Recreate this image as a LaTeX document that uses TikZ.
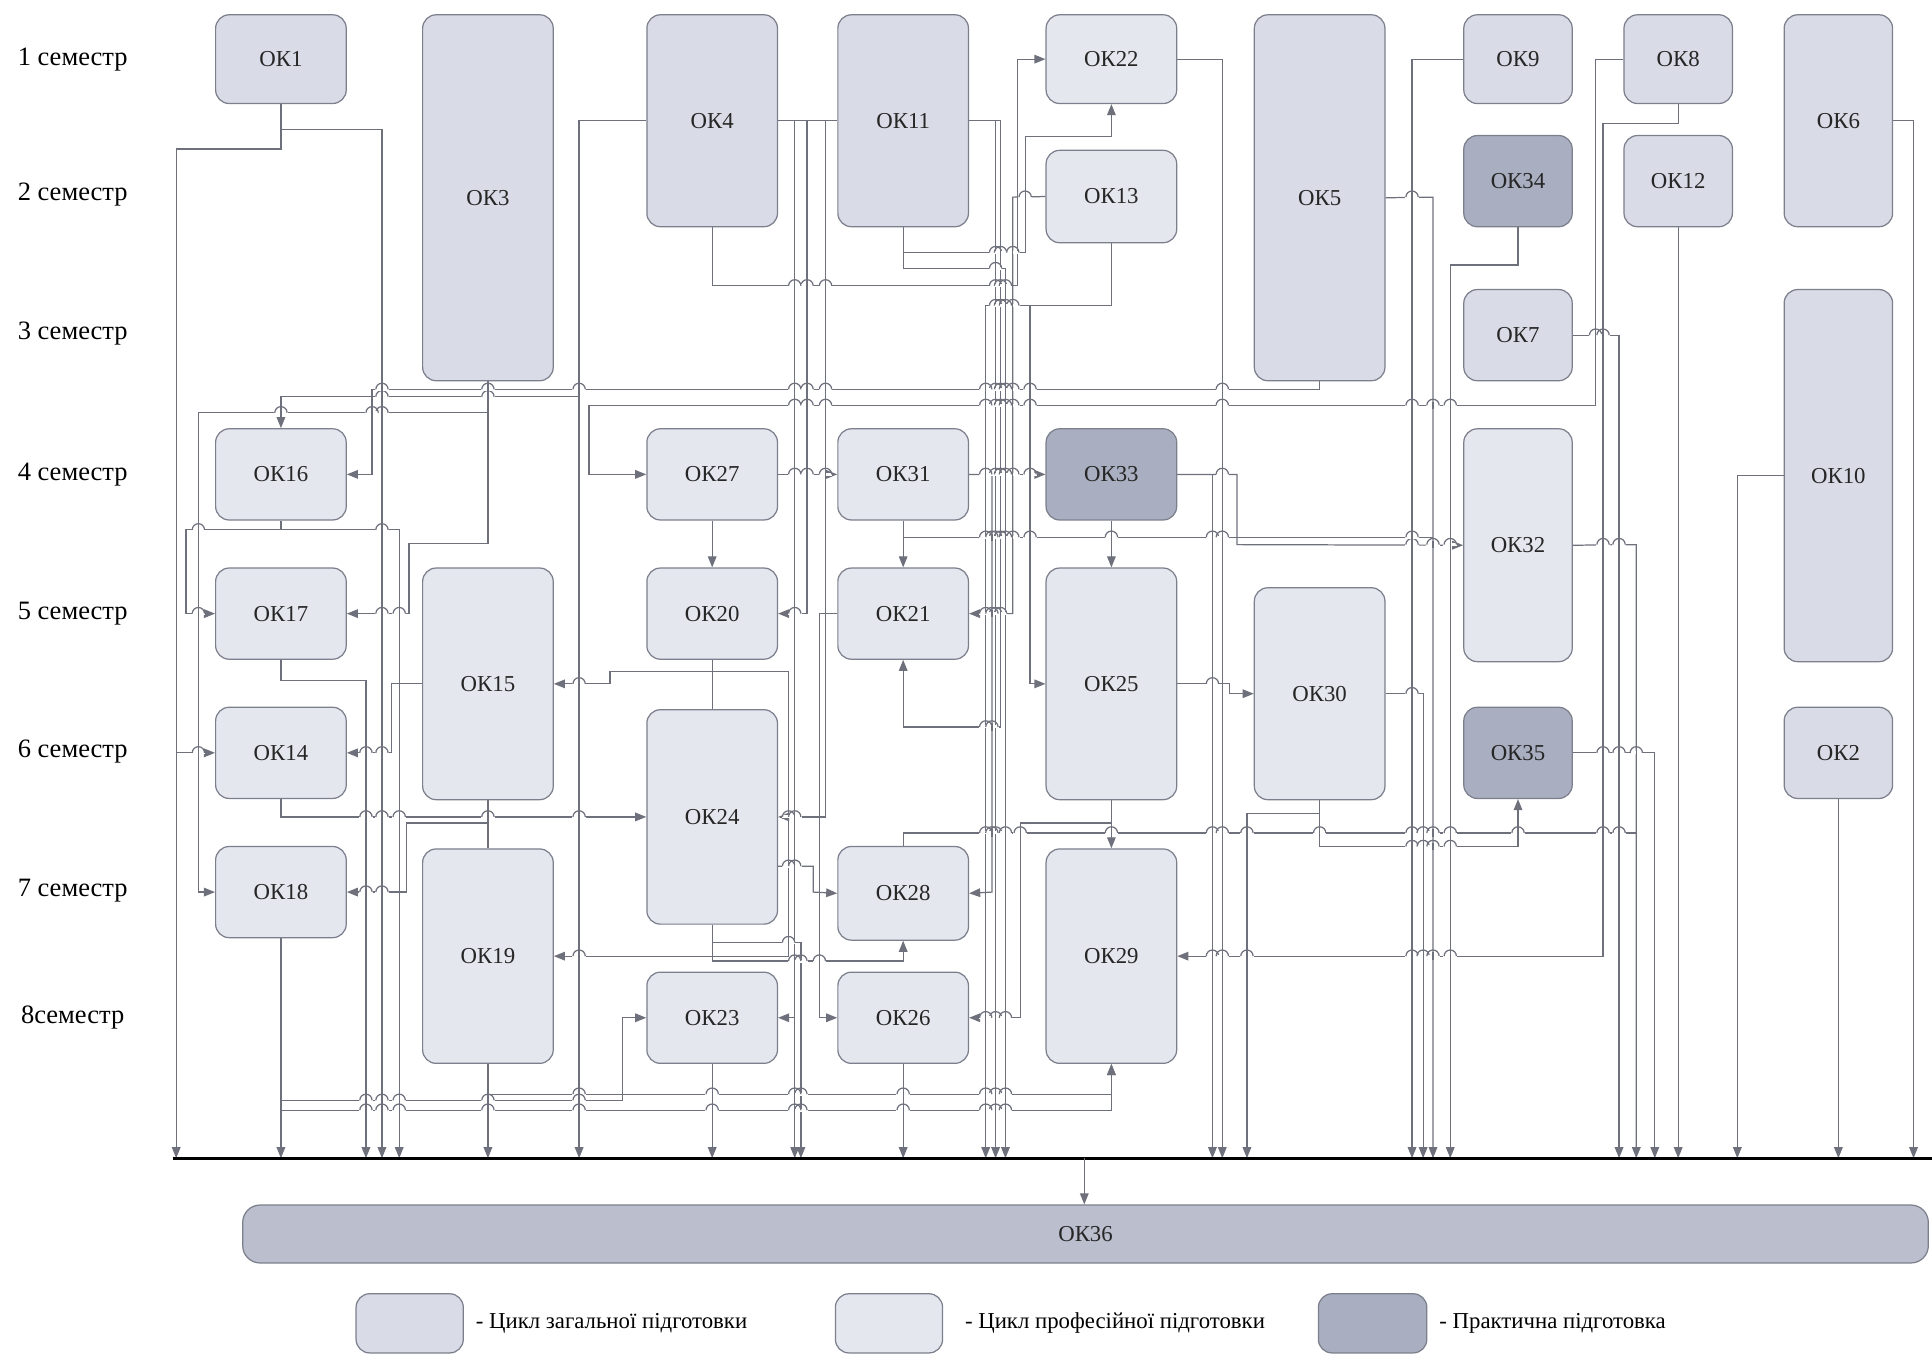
\documentclass[tikz,border=0pt]{standalone}
\usepackage{fontspec}
\setmainfont{Liberation Serif}
\newfontfamily\lsr{Liberation Serif}
\usetikzlibrary{arrows.meta,calc,backgrounds}
\definecolor{genc}{HTML}{D9DCE7}
\definecolor{profc}{HTML}{E5E7EF}
\definecolor{pracc}{HTML}{A9AEC0}
\definecolor{finc}{HTML}{BABECD}
\definecolor{edgec}{HTML}{7C7F8C}
\definecolor{wirec}{HTML}{6E707C}
\newcommand\okbox[7]{\node[#6,minimum width={#4-#2},minimum height={#5-#3}] (#1) at ({(#2+#4)/2},{(#3+#5)/2}) {#7};}
\newcommand\hopat[2]{%
  \fill[white] ({#1-5.5},{#2-1.2}) rectangle ({#1+5.5},{#2+1.2});
  \draw[wire] ({#1},{#2-3}) -- ({#1},{#2+3});
  \draw[wire] ({#1-5},{#2}) arc[start angle=180,end angle=360,radius=5];}
\def\Hlist{121/143/228, 105/228/310, 611/143/175, 552/228/297, 430/228/324, 430/151/228, 498/151/175,
 335/161/396, 724/161/175, 441/332/396, 498/281/332, 555/318/343, 611/281/318, 668/330/396, 724/281/330,
 663/228/525, 98/470/525, 322/228/470, 316/302/1071, 385/281/302, 48/1295/1318, 329/478/1295, 385/478/525,
 98/631/680, 385/631/680, 385/786/849, 545/495/578, 555/449/495, 545/578/640, 776/449/640, 765/578/650,
 780/578/733, 703/631/660, 724/660/680, 98/631/670, 663/631/670, 498/631/655, 826/631/645, 498/665/680,
 826/665/680, 98/786/812, 590/733/812, 160/822/849, 498/786/822, 232/578/826, 48/826/849, 205/733/832,
 111/832/902, 218/733/816, 248/800/902, 555/836/849, 385/786/805, 724/786/805, 668/828/902, 826/786/828,
 901/228/902, 888/396/902, 893/228/505, 826/505/525, 100/1301/1362, 776/955/1301, 385/955/1004,
 442/1004/1188, 48/955/992, 555/955/998, 563/998/1018, 660/1012/1071, 687/1071/1232, 48/1146/1188,
 563/1124/1155, 160/1124/1163, 215/1177/1232, 272/1276/1314, 442/1276/1328, 611/1276/1343, 386/1410/1448,
 98/1536/1553, 436/733/1163, 676/733/1328}
\def\Vlist{228/84/121, 143/121/940, 310/105/940, 228/761/940, 228/535/552, 297/552/940, 228/422/430,
 324/430/940, 151/430/498, 396/309/441, 161/335/724, 332/441/498, 318/555/611, 396/649/689, 330/668/724,
 396/863/940, 228/648/663, 470/98/940, 228/322/348, 1071/309/316, 302/316/385, 1295/48/329, 478/329/385,
 578/422/461, 733/422/461, 902/422/461, 578/535/576, 495/545/555, 640/545/776, 578/863/940, 578/750/780,
 650/765/940, 733/763/780, 660/703/724, 670/98/663, 655/98/498, 645/98/940, 665/498/826, 733/863/940,
 808/98/940, 812/98/590, 733/535/590, 822/160/498, 578/184/232, 826/48/232, 733/184/218, 832/111/205,
 902/84/111, 816/218/940, 902/197/248, 800/248/940, 836/248/555, 805/385/724, 902/649/689, 828/668/826,
 902/863/901, 505/826/893, 1362/84/100, 1301/100/776, 984/385/940, 1004/385/442, 992/48/940, 998/555/563,
 1071/649/687, 1012/660/940, 1232/648/687, 1146/48/940, 1155/563/940, 1163/160/940, 1232/184/215,
 1177/215/940, 1314/272/940, 1328/442/940, 1343/611/940, 1362/184/940, 1410/386/940, 1492/648/940,
 1553/98/940, 733/676/687}
\begin{document}
\begin{tikzpicture}[x=1pt,y=-1pt,
  box/.style={draw=edgec,line width=1pt,rounded corners=11pt,inner sep=0pt,font=\lsr\fontsize{18.5}{21}\selectfont,text=black!85},
  gen/.style={box,fill=genc},
  prof/.style={box,fill=profc},
  prac/.style={box,fill=pracc},
  fin/.style={box,fill=finc,rounded corners=14pt},
  wire/.style={draw=wirec,line width=1pt},
  ar/.style={wire,-{Triangle[length=9pt,width=7pt]}},
  sem/.style={font=\lsr\fontsize{21.5}{24}\selectfont,inner sep=0pt},
  leg/.style={font=\lsr\fontsize{18.5}{21}\selectfont,anchor=west,inner sep=0pt}]
\useasboundingbox (0,0) rectangle (1568,1101);

% semester labels
\node[sem] (s1) at (59,48) {1 семестр};
\node[sem] (s2) at (59,158) {2 семестр};
\node[sem] (s3) at (59,271) {3 семестр};
\node[sem] (s4) at (59,385) {4 семестр};
\node[sem] (s5) at (59,498) {5 семестр};
\node[sem] (s6) at (59,610) {6 семестр};
\node[sem] (s7) at (59,723) {7 семестр};
\node[sem] (s8) at (59,826) {8семестр};

% ---------------- boxes ----------------
\okbox{ok1}{175}{12}{281}{84}{gen}{ОК1}
\okbox{ok3}{343}{12}{449}{309}{gen}{ОК3}
\okbox{ok4}{525}{12}{631}{184}{gen}{ОК4}
\okbox{ok11}{680}{12}{786}{184}{gen}{ОК11}
\okbox{ok22}{849}{12}{955}{84}{prof}{ОК22}
\okbox{ok13}{849}{122}{955}{197}{prof}{ОК13}
\okbox{ok5}{1018}{12}{1124}{309}{gen}{ОК5}
\okbox{ok9}{1188}{12}{1276}{84}{gen}{ОК9}
\okbox{ok8}{1318}{12}{1406}{84}{gen}{ОК8}
\okbox{ok6}{1448}{12}{1536}{184}{gen}{ОК6}
\okbox{ok34}{1188}{110}{1276}{184}{prac}{ОК34}
\okbox{ok12}{1318}{110}{1406}{184}{gen}{ОК12}
\okbox{ok7}{1188}{235}{1276}{309}{gen}{ОК7}
\okbox{ok10}{1448}{235}{1536}{537}{gen}{ОК10}
\okbox{ok16}{175}{348}{281}{422}{prof}{ОК16}
\okbox{ok27}{525}{348}{631}{422}{prof}{ОК27}
\okbox{ok31}{680}{348}{786}{422}{prof}{ОК31}
\okbox{ok33}{849}{348}{955}{422}{prac}{ОК33}
\okbox{ok32}{1188}{348}{1276}{537}{prof}{ОК32}
\okbox{ok17}{175}{461}{281}{535}{prof}{ОК17}
\okbox{ok15}{343}{461}{449}{649}{prof}{ОК15}
\okbox{ok20}{525}{461}{631}{535}{prof}{ОК20}
\okbox{ok21}{680}{461}{786}{535}{prof}{ОК21}
\okbox{ok25}{849}{461}{955}{649}{prof}{ОК25}
\okbox{ok30}{1018}{477}{1124}{649}{prof}{ОК30}
\okbox{ok14}{175}{574}{281}{648}{prof}{ОК14}
\okbox{ok24}{525}{576}{631}{750}{prof}{ОК24}
\okbox{ok35}{1188}{574}{1276}{648}{prac}{ОК35}
\okbox{ok2}{1448}{574}{1536}{648}{gen}{ОК2}
\okbox{ok18}{175}{687}{281}{761}{prof}{ОК18}
\okbox{ok19}{343}{689}{449}{863}{prof}{ОК19}
\okbox{ok28}{680}{687}{786}{763}{prof}{ОК28}
\okbox{ok29}{849}{689}{955}{863}{prof}{ОК29}
\okbox{ok23}{525}{789}{631}{863}{prof}{ОК23}
\okbox{ok26}{680}{789}{786}{863}{prof}{ОК26}
\okbox{ok36}{197}{978}{1565}{1025}{fin}{ОК36}

\coordinate (busL) at (140,940);
\coordinate (busR) at (1568,940);
\coordinate (busM) at (880,940);
\coordinate (j1) at (1163,436);
\coordinate (j2) at (1328,676);

\begin{pgfonlayer}{background}
% left part
\draw[ar] (ok1.south) -- (228,121) -- (143,121) -- (143,0 |- busL);
\draw[ar] (ok1.south) -- (228,121) -- (143,121) -- (143,611) -- (ok14.west);
\draw[ar] (ok1.south) -- (228,105) -- (310,105) -- (310,0 |- busL);
\draw[ar] (ok18.south) -- (ok18.south |- busL);
\draw[ar] (ok17.south) -- (228,552) -- (297,552) -- (297,0 |- busL);
\draw[ar] (ok16.south) -- (228,430) -- (324,430) -- (324,0 |- busL);
\draw[ar] (ok16.south) -- (228,430) -- (151,430) -- (151,498) -- (ok17.west);
\draw[ar] (ok3.south) -- (396,335) -- (161,335) -- (161,724) -- (ok18.west);
\draw[ar] (ok3.south) -- (396,441) -- (332,441) -- (332,498) -- (ok17.east);
\draw[ar] (ok15.west) -- (318,555) -- (318,611) -- (ok14.east);
\draw[ar] (ok15.south) -- (396,668) -- (330,668) -- (330,724) -- (ok18.east);
\draw[wire] (ok15.south) -- (ok19.north);
\draw[ar] (ok19.south) -- (ok19.south |- busL);
\draw[ar] (ok14.south) |- (ok24.west);
\draw[ar] (ok4.west) -- (470,98) -- (470,0 |- busL);
\draw[ar] (ok4.west) -- (470,98) -- (470,322) -- (228,322) -- (ok16.north);
\draw[ar] (ok5.south) -- (1071,316) -- (302,316) -- (302,385) -- (ok16.east);
\draw[ar] (ok8.west) -- (1295,48) -- (1295,329) -- (478,329) -- (478,385) -- (ok27.west);
% centre
\draw[wire] (ok4.east) -- (ok11.west);
\draw[ar] (ok27.east) -- (ok31.west);
\draw[ar] (ok31.east) -- (ok33.west);
\draw[ar] (ok27.south) -- (ok20.north);
\draw[ar] (ok31.south) -- (ok21.north);
\draw[ar] (ok33.south) -- (ok25.north);
\draw[wire] (ok31.south) -- (733,436) -- (j1);
\draw[ar] (ok20.south) -- (578,545) -- (495,545) -- (495,555) -- (ok15.east);
\draw[ar] (ok20.south) -- (578,545) -- (640,545) -- (640,776) -- (ok19.east);
\draw[wire] (ok20.south) -- (ok24.north);
\draw[ar] (ok23.south) -- (ok23.south |- busL);
\draw[ar] (ok24.south) -- (578,765) -- (650,765) -- (650,0 |- busL);
\draw[ar] (ok24.south) -- (578,780) -- (733,780) -- (ok28.south);
\draw[ar] ($(ok24.east)+(0,40)$) -- (660,703) -- (660,724) -- (ok28.west);
\draw[ar] (ok4.east) -- (670,98) -- (670,663) -- (ok24.east);
\draw[ar] (ok4.east) -- (655,98) -- (655,498) -- (ok20.east);
\draw[ar] (ok4.east) -- (645,98) -- (645,0 |- busL);
\draw[ar] (ok4.east) -- (645,98) -- (645,826) -- (ok23.east);
\draw[ar] (ok21.west) -- (665,498) -- (665,826) -- (ok26.west);
\draw[ar] (ok26.south) -- (ok26.south |- busL);
\draw[wire] (ok28.north) -- (733,676) -- (j2);
\draw[ar] (ok11.east) -- (808,98) -- (808,0 |- busL);
\draw[ar] (ok11.east) -- (812,98) -- (812,590) -- (733,590) -- (ok21.south);
\draw[ar] (ok13.west) -- (822,160) -- (822,498) -- (ok21.east);
\draw[ar] (ok4.south) -- (578,232) -- (826,232) -- (826,48) -- (ok22.west);
\draw[ar] (ok11.south) -- (733,205) -- (832,205) -- (832,111) -- (902,111) -- (ok22.south);
\draw[ar] (ok11.south) -- (733,218) -- (816,218) -- (816,0 |- busL);
\draw[ar] (ok13.south) -- (902,248) -- (800,248) -- (800,0 |- busL);
\draw[ar] (ok13.south) -- (902,248) -- (836,248) -- (836,555) -- (ok25.west);
\draw[ar] (ok31.east) -- (805,385) -- (805,724) -- (ok28.east);
\draw[ar] (ok25.south) -- (902,668) -- (828,668) -- (828,826) -- (ok26.east);
\draw[ar] (ok25.south) -- (ok29.north);
\draw[ar] (ok18.south) -- (228,901) -- (902,901) -- (ok29.south);
\draw[ar] (ok19.south) -- (396,888) -- (902,888) -- (ok29.south);
\draw[ar] (ok18.south) -- (228,893) -- (505,893) -- (505,826) -- (ok23.west);
% right part
\draw[ar] (ok8.south) -- (1362,100) -- (1301,100) -- (1301,776) -- (ok29.east);
\draw[ar] (ok33.east) -- (984,385) -- (984,0 |- busL);
\draw[ar] (ok33.east) -- (1004,385) -- (1004,442) -- (ok32.west);
\draw[ar] (ok22.east) -- (992,48) -- (992,0 |- busL);
\draw[ar] (ok25.east) -- (998,555) -- (998,563) -- (ok30.west);
\draw[ar] (ok30.south) -- (1071,660) -- (1012,660) -- (1012,0 |- busL);
\draw[ar] (ok30.south) -- (1071,687) -- (1232,687) -- (ok35.south);
\draw[ar] (ok9.west) -- (1146,48) -- (1146,0 |- busL);
\draw[ar] (ok30.east) -- (1155,563) -- (1155,0 |- busL);
\draw[ar] (ok5.east) -- (1163,160) -- (1163,0 |- busL);
\draw[ar] (ok34.south) -- (1232,215) -- (1177,215) -- (1177,0 |- busL);
\draw[ar] (ok7.east) -- (1314,272) -- (1314,0 |- busL);
\draw[ar] (ok32.east) -- (1328,442) -- (1328,0 |- busL);
\draw[ar] (ok35.east) -- (1343,611) -- (1343,0 |- busL);
\draw[ar] (ok12.south) -- (ok12.south |- busL);
\draw[ar] (ok10.west) -- (1410,386) -- (1410,0 |- busL);
\draw[ar] (ok2.south) -- (ok2.south |- busL);
\draw[ar] (ok6.east) -- (1553,98) -- (1553,0 |- busL);
% hops where a horizontal run crosses a vertical run
\foreach \hy/\ha/\hb in \Hlist {
  \foreach \vx/\va/\vb in \Vlist {
    \pgfmathparse{and(and(\vx>\ha+6,\vx<\hb-6),and(\hy>\va+6,\hy<\vb-6))}
    \ifdim\pgfmathresult pt>0.5pt \hopat{\vx}{\hy}\fi
  }
}
% bus
\draw[line width=2.2pt] (busL) -- (busR);
\draw[ar] (busM) -- (busM |- ok36.north);
\end{pgfonlayer}

% legend
\okbox{lg1}{289}{1050}{376}{1098}{gen}{}
\okbox{lg2}{678}{1050}{765}{1098}{prof}{}
\okbox{lg3}{1070}{1050}{1158}{1098}{prac}{}
\node[leg] (lt1) at (386,1074) {- Цикл загальної підготовки};
\node[leg] (lt2) at (783,1074) {- Цикл професійної підготовки};
\node[leg] (lt3) at (1168,1074) {- Практична підготовка};
\end{tikzpicture}
\end{document}
